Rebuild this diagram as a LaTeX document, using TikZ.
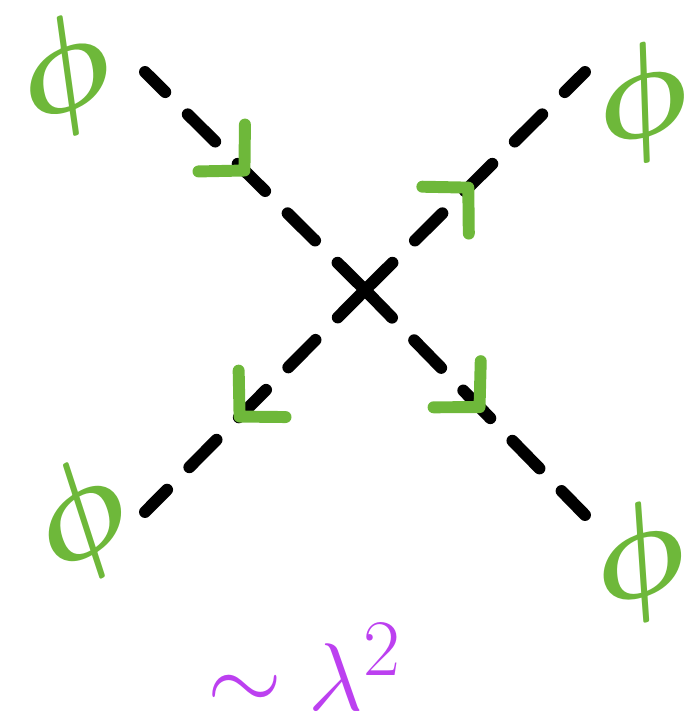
\documentclass[tikz,border=0pt]{standalone}
\usepackage{amsmath,amssymb}
\usepackage{tikz}
\usetikzlibrary{arrows.meta,decorations.markings,positioning}
\definecolor{phigreen}{RGB}{110,184,58}
\definecolor{couplpurple}{RGB}{188,64,240}

\begin{document}
\begin{tikzpicture}[
  leg/.style={line width=3.4pt, line cap=round, dash pattern=on 11pt off 9pt, black},
  chev/.tip={Straight Barb[length=3.2mm, width=6.6mm, line width=3.4pt, round, color=phigreen]},
  outflow/.style={postaction={decorate, decoration={markings, mark=at position #1 with {\arrow{chev}}}}},
  inflow/.style={postaction={decorate, decoration={markings, mark=at position #1 with {\arrowreversed{chev}}}}},
  field/.style={text=phigreen, inner sep=0pt, scale=1.5, font=\fontsize{24.88}{24.88}\selectfont\boldmath},
  coupling/.style={text=couplpurple, inner sep=0pt, scale=1.1, font=\fontsize{24.88}{24.88}\selectfont},
]
\useasboundingbox (0,0) rectangle (6.89,7.25);

% --- vertex and external legs ---
\coordinate (c) at (3.65, 4.35);
\coordinate (tl) at (1.45, 6.53);
\coordinate (tr) at (5.85, 6.53);
\coordinate (bl) at (1.45, 2.13);
\coordinate (br) at (5.85, 2.10);

\draw[leg, inflow=0.53] (c) -- (tl);
\draw[leg, outflow=0.49] (c) -- (tr);
\draw[leg, outflow=0.59] (c) -- (bl);
\draw[leg, outflow=0.54] (c) -- (br);

% --- external fields ---
\node[field, rotate=22] (ptl) at (0.66, 6.48) {$\phi$};
\node[field, rotate=16] (ptr) at (6.42, 6.22) {$\phi$};
\node[field, rotate=32] (pbl) at (0.82, 2.03) {$\phi$};
\node[field, rotate=18] (pbr) at (6.40, 1.62) {$\phi$};

% --- coupling order ---
\node[coupling] (lam) at (3.05, 0.58) {$\sim\lambda^{2}$};

\end{tikzpicture}
\end{document}
